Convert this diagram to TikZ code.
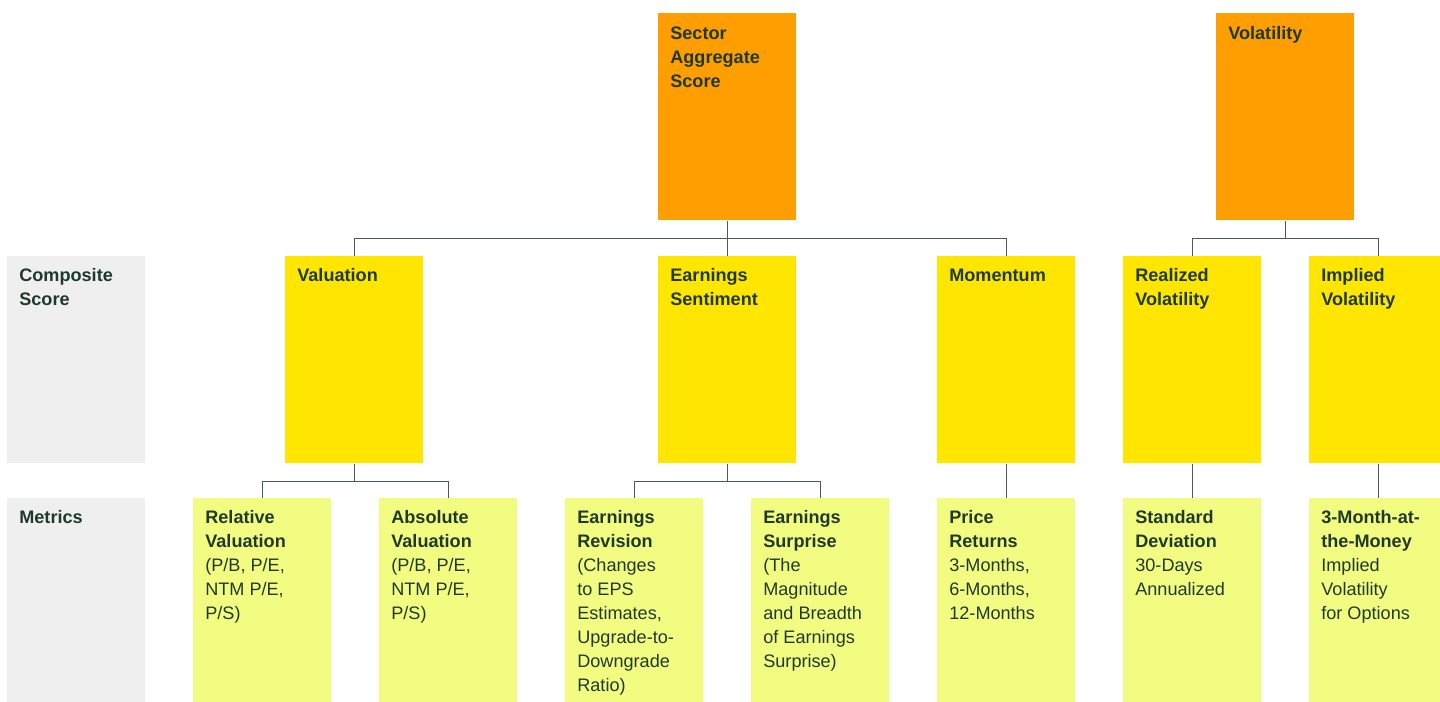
\documentclass[tikz,border=0pt]{standalone}
\usepackage{fontspec}
\setmainfont{Liberation Sans}
\definecolor{orangebox}{HTML}{FF9E00}
\definecolor{yellowbox}{HTML}{FFE600}
\definecolor{paleyellow}{HTML}{F2FC80}
\definecolor{greybox}{HTML}{EFEFEF}
\definecolor{darkgreen}{HTML}{1F3A2D}
\definecolor{wire}{HTML}{4A5A52}
\tikzset{
	tile/.style={anchor=north west, inner sep=0pt, minimum width=2.76cm, minimum height=4.14cm},
	aggregate/.style={tile, fill=orangebox},
	composite/.style={tile, fill=yellowbox},
	metric/.style={tile, fill=paleyellow, minimum height=4.08cm},
	rowhead/.style={tile, fill=greybox},
	lbl/.style={anchor=north west, inner sep=0pt, align=left, text=darkgreen,
		font=\fontsize{10.3}{13.6}\selectfont},
	link/.style={draw=wire, line width=0.9pt}
}

\begin{document}
\begin{tikzpicture}[x=0.02cm, y=-0.02cm]
	%%%%% CANVAS %%%%%
	\useasboundingbox (0,0) rectangle (1440,702);
	\clip (0,0) rectangle (1440,702);
	
	%%%%% ROW HEADERS %%%%%
	\node[rowhead] (composite) at (7,256) {};
	\node[lbl] (t-composite) at ([shift={(12,8.7)}]composite.north west) {\strut\textbf{Composite}\\\textbf{Score}};
	\node[rowhead, minimum height=4.08cm] (metrics) at (7,498) {};
	\node[lbl] (t-metrics) at ([shift={(12,8.7)}]metrics.north west) {\strut\textbf{Metrics}};
	
	%%%%% AGGREGATE SCORES %%%%%
	\node[aggregate] (sector) at (658,13) {};
	\node[lbl] (t-sector) at ([shift={(12,9.2)}]sector.north west) {\strut\textbf{Sector}\\\textbf{Aggregate}\\\textbf{Score}};
	\node[aggregate] (volatility) at (1216,13) {};
	\node[lbl] (t-volatility) at ([shift={(12,9.2)}]volatility.north west) {\strut\textbf{Volatility}};
	
	%%%%% COMPOSITE SCORES %%%%%
	\node[composite] (valuation) at (285,256) {};
	\node[lbl] (t-valuation) at ([shift={(12,8.7)}]valuation.north west) {\strut\textbf{Valuation}};
	\node[composite] (sentiment) at (658,256) {};
	\node[lbl] (t-sentiment) at ([shift={(12,8.7)}]sentiment.north west) {\strut\textbf{Earnings}\\\textbf{Sentiment}};
	\node[composite] (momentum) at (937,256) {};
	\node[lbl] (t-momentum) at ([shift={(12,8.7)}]momentum.north west) {\strut\textbf{Momentum}};
	\node[composite] (realized) at (1123,256) {};
	\node[lbl] (t-realized) at ([shift={(12,8.7)}]realized.north west) {\strut\textbf{Realized}\\\textbf{Volatility}};
	\node[composite] (implied) at (1309,256) {};
	\node[lbl] (t-implied) at ([shift={(12,8.7)}]implied.north west) {\strut\textbf{Implied}\\\textbf{Volatility}};
	
	%%%%% METRICS %%%%%
	\node[metric] (relval) at (193,498) {};
	\node[lbl] (t-relval) at ([shift={(12,8.7)}]relval.north west) {\strut\textbf{Relative}\\\textbf{Valuation}\\(P/B, P/E,\\NTM P/E,\\P/S)};
	\node[metric] (absval) at (379,498) {};
	\node[lbl] (t-absval) at ([shift={(12,8.7)}]absval.north west) {\strut\textbf{Absolute}\\\textbf{Valuation}\\(P/B, P/E,\\NTM P/E,\\P/S)};
	\node[metric] (revision) at (565,498) {};
	\node[lbl] (t-revision) at ([shift={(12,8.7)}]revision.north west) {\strut\textbf{Earnings}\\\textbf{Revision}\\(Changes\\to EPS\\Estimates,\\Upgrade-to-\\Downgrade\\Ratio)};
	\node[metric] (surprise) at (751,498) {};
	\node[lbl] (t-surprise) at ([shift={(12,8.7)}]surprise.north west) {\strut\textbf{Earnings}\\\textbf{Surprise}\\(The\\Magnitude\\and Breadth\\of Earnings\\Surprise)};
	\node[metric] (returns) at (937,498) {};
	\node[lbl] (t-returns) at ([shift={(12,8.7)}]returns.north west) {\strut\textbf{Price}\\\textbf{Returns}\\3-Months,\\6-Months,\\12-Months};
	\node[metric] (stddev) at (1123,498) {};
	\node[lbl] (t-stddev) at ([shift={(12,8.7)}]stddev.north west) {\strut\textbf{Standard}\\\textbf{Deviation}\\30-Days\\Annualized};
	\node[metric] (atm) at (1309,498) {};
	\node[lbl] (t-atm) at ([shift={(12,8.7)}]atm.north west) {\strut\textbf{3-Month-at-}\\\textbf{the-Money}\\Implied\\Volatility\\for Options};
	
	%%%%% LINKS %%%%%
	\draw[link] (sector.south) -- ++(0,18) coordinate (sector-bus);
	\draw[link] (sector-bus) -| (valuation.north);
	\draw[link] (sector-bus) -| (sentiment.north);
	\draw[link] (sector-bus) -| (momentum.north);
	
	\draw[link] (volatility.south) -- ++(0,18) coordinate (volatility-bus);
	\draw[link] (volatility-bus) -| (realized.north);
	\draw[link] (volatility-bus) -| (implied.north);
	
	\draw[link] (valuation.south) -- ++(0,18) coordinate (valuation-bus);
	\draw[link] (valuation-bus) -| (relval.north);
	\draw[link] (valuation-bus) -| (absval.north);
	
	\draw[link] (sentiment.south) -- ++(0,18) coordinate (sentiment-bus);
	\draw[link] (sentiment-bus) -| (revision.north);
	\draw[link] (sentiment-bus) -| (surprise.north);
	
	\draw[link] (momentum.south) -- (returns.north);
	\draw[link] (realized.south) -- (stddev.north);
	\draw[link] (implied.south) -- (atm.north);
\end{tikzpicture}
\end{document}
